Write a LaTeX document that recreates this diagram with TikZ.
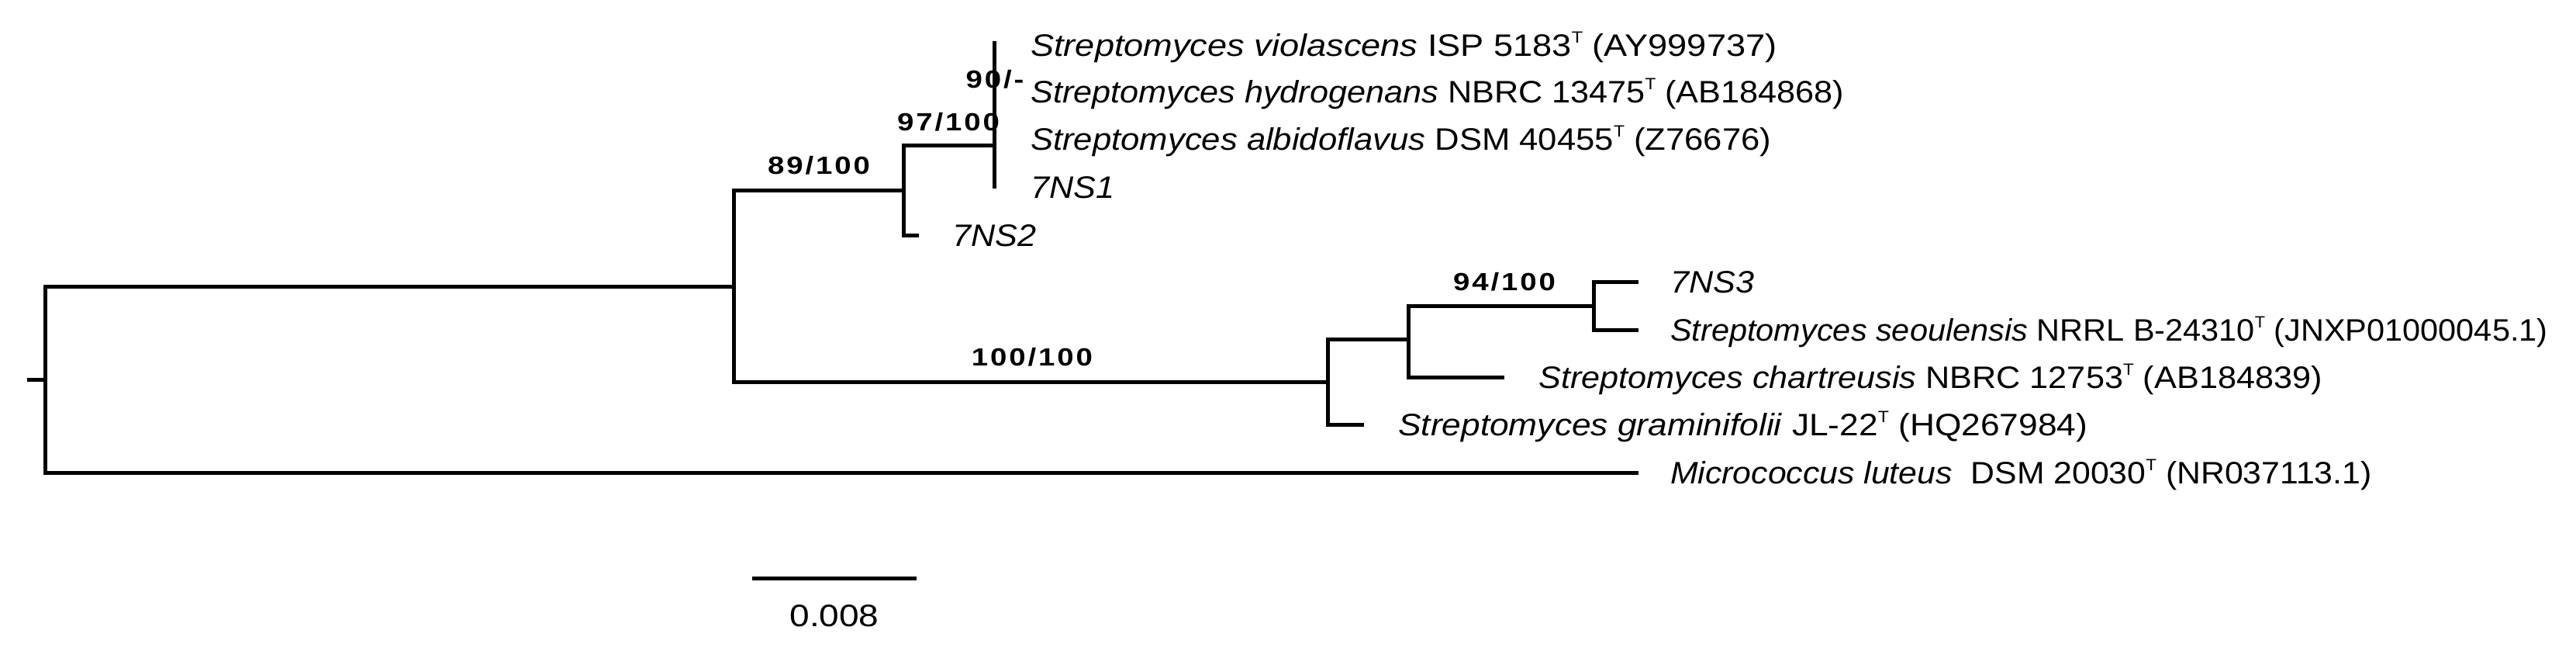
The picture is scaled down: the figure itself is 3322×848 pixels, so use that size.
\documentclass[tikz,border=0pt]{standalone}
\usepackage{fontspec}
\usepackage{graphicx}
\setmainfont{Liberation Sans}[FakeStretch=1.08]
\newfontfamily\bsfont{Liberation Sans}[LetterSpace=9,FakeStretch=1.2]
\newfontfamily\scfont{Liberation Sans}[FakeStretch=1.15]
\newcommand{\supT}{\raisebox{16.5pt}{\fontsize{21}{21}\selectfont T}}
\newcommand{\hsc}[2]{\scalebox{#1}[1]{#2}}
\begin{document}
\begin{tikzpicture}[x=1pt,y=-1pt,
  br/.style={line width=5pt},
  tiplab/.style={anchor=west, inner sep=0pt, text height=28.6pt, text depth=0pt, font=\fontsize{40}{48}\selectfont},
  bs/.style={inner sep=0pt, text height=23pt, text depth=0pt, font=\bsfont\bfseries\fontsize{32}{38}\selectfont},
  sclab/.style={inner sep=0pt, text height=28.6pt, text depth=0pt, font=\scfont\fontsize{40}{48}\selectfont}
]
\useasboundingbox (0,0) rectangle (3322,848);
% internal nodes
\coordinate (rootstub) at (35,489);
\coordinate (root) at (58,489);
\coordinate (n89) at (946,369);
\coordinate (n97) at (1165,245);
\coordinate (nc) at (1282,187);
\coordinate (n100) at (1712,492);
\coordinate (nb) at (1816,437);
\coordinate (n94) at (2055,394);
% tips
\coordinate (ctop) at (1282,53);
\coordinate (cbot) at (1282,243);
\coordinate (tv) at (1282,58);
\coordinate (th) at (1282,118);
\coordinate (ta) at (1282,179);
\coordinate (t1) at (1282,241);
\coordinate (t2) at (1185,303);
\coordinate (t3) at (2113,363);
\coordinate (tseo) at (2113,425);
\coordinate (tcha) at (1940,486);
\coordinate (tgra) at (1759,547);
\coordinate (tmic) at (2113,609);
% branches
\draw[br] (rootstub) -- (root);
\draw[br] (n89) -| (root) |- (tmic);
\draw[br] (n97) -| (n89) |- (n100);
\draw[br] (nc) -| (n97) |- (t2);
\draw[br] (ctop) -- (cbot);
\draw[br] (nb) -| (n100) |- (tgra);
\draw[br] (n94) -| (nb) |- (tcha);
\draw[br] (t3) -| (n94) |- (tseo);
% tip labels
\node[tiplab] (lv) at ([xshift=47pt]tv) {\hsc{1.045}{\textit{Streptomyces violascens} ISP 5183\supT\ (AY999737)}};
\node[tiplab] (lh) at ([xshift=47pt]th) {\textit{Streptomyces hydrogenans} NBRC 13475\supT\ (AB184868)};
\node[tiplab] (la) at ([xshift=47pt]ta) {\hsc{1.01}{\textit{Streptomyces albidoflavus} DSM 40455\supT\ (Z76676)}};
\node[tiplab] (l1) at ([xshift=47pt]t1) {\textit{7NS1}};
\node[tiplab] (l2) at ([xshift=43pt]t2) {\textit{7NS2}};
\node[tiplab] (l3) at ([xshift=41pt]t3) {\textit{7NS3}};
\node[tiplab] (lseo) at ([xshift=41pt]tseo) {\hsc{0.96}{\textit{Streptomyces seoulensis} NRRL B-24310\supT\ (JNXP01000045.1)}};
\node[tiplab] (lcha) at ([xshift=44pt]tcha) {\textit{Streptomyces chartreusis} NBRC 12753\supT\ (AB184839)};
\node[tiplab] (lgra) at ([xshift=44pt]tgra) {\hsc{1.025}{\textit{Streptomyces graminifolii} JL-22\supT\ (HQ267984)}};
\node[tiplab] (lmic) at ([xshift=41pt]tmic) {\hsc{0.99}{\textit{Micrococcus luteus}\hspace{0.3em} DSM 20030\supT\ (NR037113.1)}};
% bootstrap values
\node[bs] (b90) at (1283,102) {90/-};
\node[bs] (b97) at (1223,157) {97/100};
\node[bs] (b89) at (1056,213) {89/100};
\node[bs] (b100) at (1331,460) {100/100};
\node[bs] (b94) at (1940,363) {94/100};
% scale bar
\coordinate (sb1) at (970,745);
\coordinate (sb2) at (1182,745);
\draw[br] (sb1) -- (sb2);
\node[sclab] (sbl) at (1076,793) {0.008};
\end{tikzpicture}
\end{document}
